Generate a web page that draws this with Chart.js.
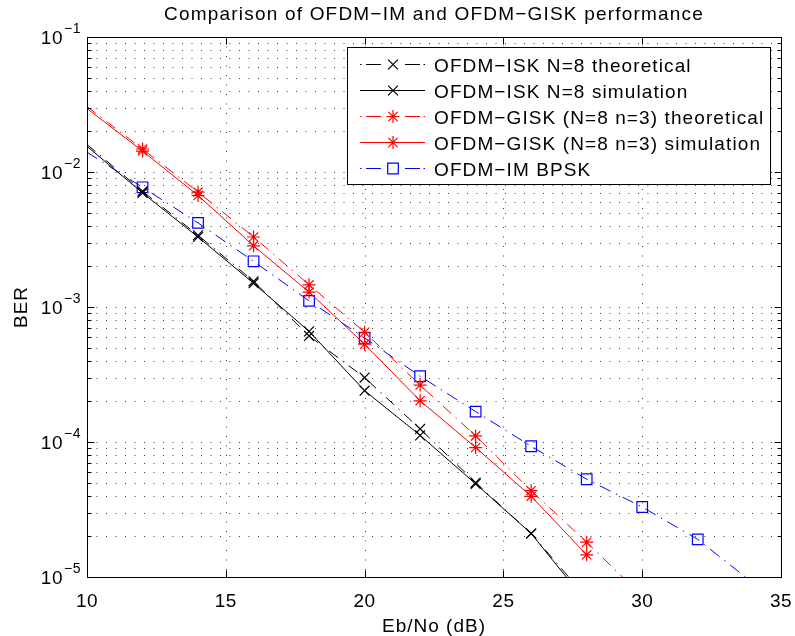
<!DOCTYPE html>
<html>
<head>
<meta charset="utf-8">
<script src="https://cdn.jsdelivr.net/npm/chart.js@4.4.0/dist/chart.umd.min.js"></script>
<style>
  html, body { margin: 0; padding: 0; background: #fff; }
</style>
</head>
<body>
<canvas id="chart" width="795" height="636"></canvas>
<script>
// values (BER vs Eb/No in dB)
const iskX = [10, 12, 14, 16, 18, 20, 22, 24, 26, 28];
const iskTheory = [0.0160, 0.0072, 0.0034, 0.00155, 0.00061, 0.00030, 0.000125, 0.000050, 0.000021, 0.0000070];
const iskSim = [0.0155, 0.0070, 0.0033, 0.00150, 0.00066, 0.00024, 0.000112, 0.000049, 0.000021, 0.0000065];

const giskX = [10, 12, 14, 16, 18, 20, 22, 24, 26, 28, 30];
const giskTheory = [0.0305, 0.0148, 0.0071, 0.0033, 0.00146, 0.00065, 0.000264, 0.000111, 0.0000436, 0.0000181, 0.0000072];
const giskSimX = [10, 12, 14, 16, 18, 20, 22, 24, 26, 28];
const giskSim = [0.0295, 0.0143, 0.0067, 0.00284, 0.00129, 0.00053, 0.000202, 0.000091, 0.0000396, 0.0000146];

const bpskX = [10, 12, 14, 16, 18, 20, 22, 24, 26, 28, 30, 32, 34];
const bpsk = [0.0140, 0.0077, 0.0042, 0.00218, 0.00111, 0.00059, 0.000307, 0.000168, 0.000093, 0.000053, 0.000033, 0.000019, 0.0000090];

const xTicks = [10, 15, 20, 25, 30, 35];
const yTickExps = [-5, -4, -3, -2, -1];

const TITLE = "Comparison of OFDM\u2212IM and OFDM\u2212GISK performance";
const X_LABEL = "Eb/No (dB)";
const Y_LABEL = "BER";

const FONT = "'Liberation Sans', Arial, Helvetica, sans-serif";
const DASHDOT = [11, 6, 1.5, 6];

const pts = (xs, ys) => xs.map((x, i) => ({ x: x, y: ys[i] }));
// no marker on the first (x = 10) sample, as in the reference
const radiusAt = (r) => (c) => (c.raw && c.raw.x <= 10 ? 0 : r);

function series(label, xs, ys, color, dash, style, r) {
     return {
          label: label,
          data: pts(xs, ys),
          borderColor: color,
          backgroundColor: "transparent",
          borderWidth: 1,
          borderDash: dash,
          pointStyle: style,
          pointRadius: radiusAt(r),
          pointBorderColor: color,
          pointBackgroundColor: "transparent",
          pointBorderWidth: 1.2,
          tension: 0,
          fill: false,
     };
}

function drawMarker(ctx, style, x, y, r, color) {
     ctx.save();
     ctx.strokeStyle = color;
     ctx.lineWidth = 1.2;
     ctx.setLineDash([]);
     ctx.beginPath();
     const d = r * Math.SQRT1_2;
     if (style === "crossRot" || style === "star") {
          ctx.moveTo(x - d, y - d); ctx.lineTo(x + d, y + d);
          ctx.moveTo(x - d, y + d); ctx.lineTo(x + d, y - d);
     }
     if (style === "star") {
          ctx.moveTo(x - r, y); ctx.lineTo(x + r, y);
          ctx.moveTo(x, y - r); ctx.lineTo(x, y + r);
     }
     if (style === "rect") {
          ctx.rect(x - d, y - d, 2 * d, 2 * d);
     }
     ctx.stroke();
     ctx.restore();
}

const matlabAxes = {
     id: "matlabAxes",
     beforeDatasetsDraw(chart) {
          const { ctx, chartArea: a, scales } = chart;
          const xs = scales.x, ys = scales.y;
          ctx.save();
          ctx.strokeStyle = "rgba(0,0,0,0.75)";
          ctx.lineWidth = 1;
          ctx.setLineDash([1, 8.5]);
          xTicks.slice(1, -1).forEach((v) => {
               const px = Math.round(xs.getPixelForValue(v)) + 0.5;
               ctx.beginPath();
               ctx.moveTo(px, a.top); ctx.lineTo(px, a.bottom);
               ctx.stroke();
          });
          yTickExps.slice(0, -1).forEach((e) => {
               for (let k = 1; k <= 9; k++) {
                    const py = Math.round(ys.getPixelForValue(k * Math.pow(10, e))) + 0.5;
                    ctx.beginPath();
                    ctx.moveTo(a.left, py); ctx.lineTo(a.right, py);
                    ctx.stroke();
               }
          });
          ctx.restore();
     },
     afterDatasetsDraw(chart) {
          const { ctx, chartArea: a, scales } = chart;
          const xs = scales.x, ys = scales.y;
          const L = Math.round(a.left) + 0.5, R = Math.round(a.right) + 0.5;
          const T = Math.round(a.top) + 0.5, B = Math.round(a.bottom) + 0.5;
          ctx.save();
          ctx.setLineDash([]);
          ctx.strokeStyle = "#000";
          ctx.lineWidth = 1;
          ctx.strokeRect(L, T, R - L, B - T);

          // tick marks, inside the box
          ctx.beginPath();
          xTicks.forEach((v) => {
               const px = Math.round(xs.getPixelForValue(v)) + 0.5;
               ctx.moveTo(px, B); ctx.lineTo(px, B - 7);
               ctx.moveTo(px, T); ctx.lineTo(px, T + 7);
          });
          yTickExps.forEach((e) => {
               for (let k = 1; k <= 9; k++) {
                    if (e === -1 && k > 1) break;
                    const len = k === 1 ? 7 : 4;
                    const py = Math.round(ys.getPixelForValue(k * Math.pow(10, e))) + 0.5;
                    ctx.moveTo(L, py); ctx.lineTo(L + len, py);
                    ctx.moveTo(R, py); ctx.lineTo(R - len, py);
               }
          });
          ctx.stroke();

          ctx.fillStyle = "#000";
          ctx.letterSpacing = "0.5px";
          // x tick labels
          ctx.font = "19px " + FONT;
          ctx.textAlign = "center";
          ctx.textBaseline = "alphabetic";
          xTicks.forEach((v) => {
               ctx.fillText(String(v), xs.getPixelForValue(v), 607);
          });
          // y tick labels 10^e
          yTickExps.forEach((e) => {
               const py = ys.getPixelForValue(Math.pow(10, e));
               ctx.font = "19px " + FONT;
               ctx.textAlign = "right";
               ctx.fillText("10", 63, py + 6.5);
               ctx.font = "14px " + FONT;
               ctx.textAlign = "left";
               ctx.fillText("\u2212" + Math.abs(e), 64, py - 4);
          });

          // axis titles and title
          ctx.font = "19px " + FONT;
          ctx.textAlign = "center";
          ctx.letterSpacing = "1px";
          ctx.fillText(X_LABEL, (a.left + a.right) / 2, 632);
          ctx.save();
          ctx.translate(27, (a.top + a.bottom) / 2);
          ctx.rotate(-Math.PI / 2);
          ctx.fillText(Y_LABEL, 0, 0);
          ctx.restore();
          ctx.letterSpacing = "1.2px";
          ctx.fillText(TITLE, (a.left + a.right) / 2, 20);

          // legend
          const bx = 347.5, by = 47.5, bw = 423, bh = 137;
          ctx.fillStyle = "#fff";
          ctx.fillRect(bx, by, bw, bh);
          ctx.strokeStyle = "#000";
          ctx.strokeRect(bx, by, bw, bh);
          chart.data.datasets.forEach((ds, i) => {
               const cy = Math.round(64 + i * 25.9) + 0.5;
               ctx.strokeStyle = ds.borderColor;
               ctx.lineWidth = 1;
               ctx.beginPath();
               if (ds.borderDash.length) {
                    ctx.moveTo(360, cy); ctx.lineTo(361.5, cy);
                    ctx.moveTo(366, cy); ctx.lineTo(381, cy);
                    ctx.moveTo(405, cy); ctx.lineTo(420, cy);
                    ctx.moveTo(423.5, cy); ctx.lineTo(425, cy);
               } else {
                    ctx.moveTo(360, cy); ctx.lineTo(425, cy);
               }
               ctx.stroke();
               const r = ds.pointStyle === "rect" ? 7.5 : ds.pointStyle === "star" ? 6.5 : 7;
               drawMarker(ctx, ds.pointStyle, 393, cy, r, ds.borderColor);
               ctx.fillStyle = "#000";
               ctx.textAlign = "left";
               ctx.font = "19px " + FONT;
               ctx.letterSpacing = "1.1px";
               ctx.fillText(ds.label, 434, cy + 7);
          });
          ctx.restore();
     },
};

const ctx = document.getElementById("chart").getContext("2d");
const myChart = new Chart(ctx, {
     type: "line",
     data: {
          datasets: [
               series("OFDM\u2212ISK N=8 theoretical", iskX, iskTheory, "#000000", DASHDOT, "crossRot", 7),
               series("OFDM\u2212ISK N=8 simulation", iskX, iskSim, "#000000", [], "crossRot", 7),
               series("OFDM\u2212GISK (N=8 n=3) theoretical", giskX, giskTheory, "#ff0000", DASHDOT, "star", 6.5),
               series("OFDM\u2212GISK (N=8 n=3) simulation", giskSimX, giskSim, "#ff0000", [], "star", 6.5),
               series("OFDM\u2212IM BPSK", bpskX, bpsk, "#0000ff", [12, 6, 1.5, 6], "rect", 7.5),
          ],
     },
     options: {
          responsive: false,
          animation: false,
          events: [],
          layout: {
               padding: { left: 87, top: 37, right: 14, bottom: 59 },
          },
          scales: {
               x: {
                    type: "linear",
                    min: 10,
                    max: 35,
                    ticks: { display: false, stepSize: 5 },
                    grid: { display: false, drawTicks: false },
                    border: { display: false },
               },
               y: {
                    type: "logarithmic",
                    min: 1e-5,
                    max: 1e-1,
                    ticks: { display: false },
                    grid: { display: false, drawTicks: false },
                    border: { display: false },
               },
          },
          plugins: {
               legend: { display: false },
               tooltip: { enabled: false },
               title: { display: false },
          },
     },
     plugins: [matlabAxes],
});
</script>
</body>
</html>
